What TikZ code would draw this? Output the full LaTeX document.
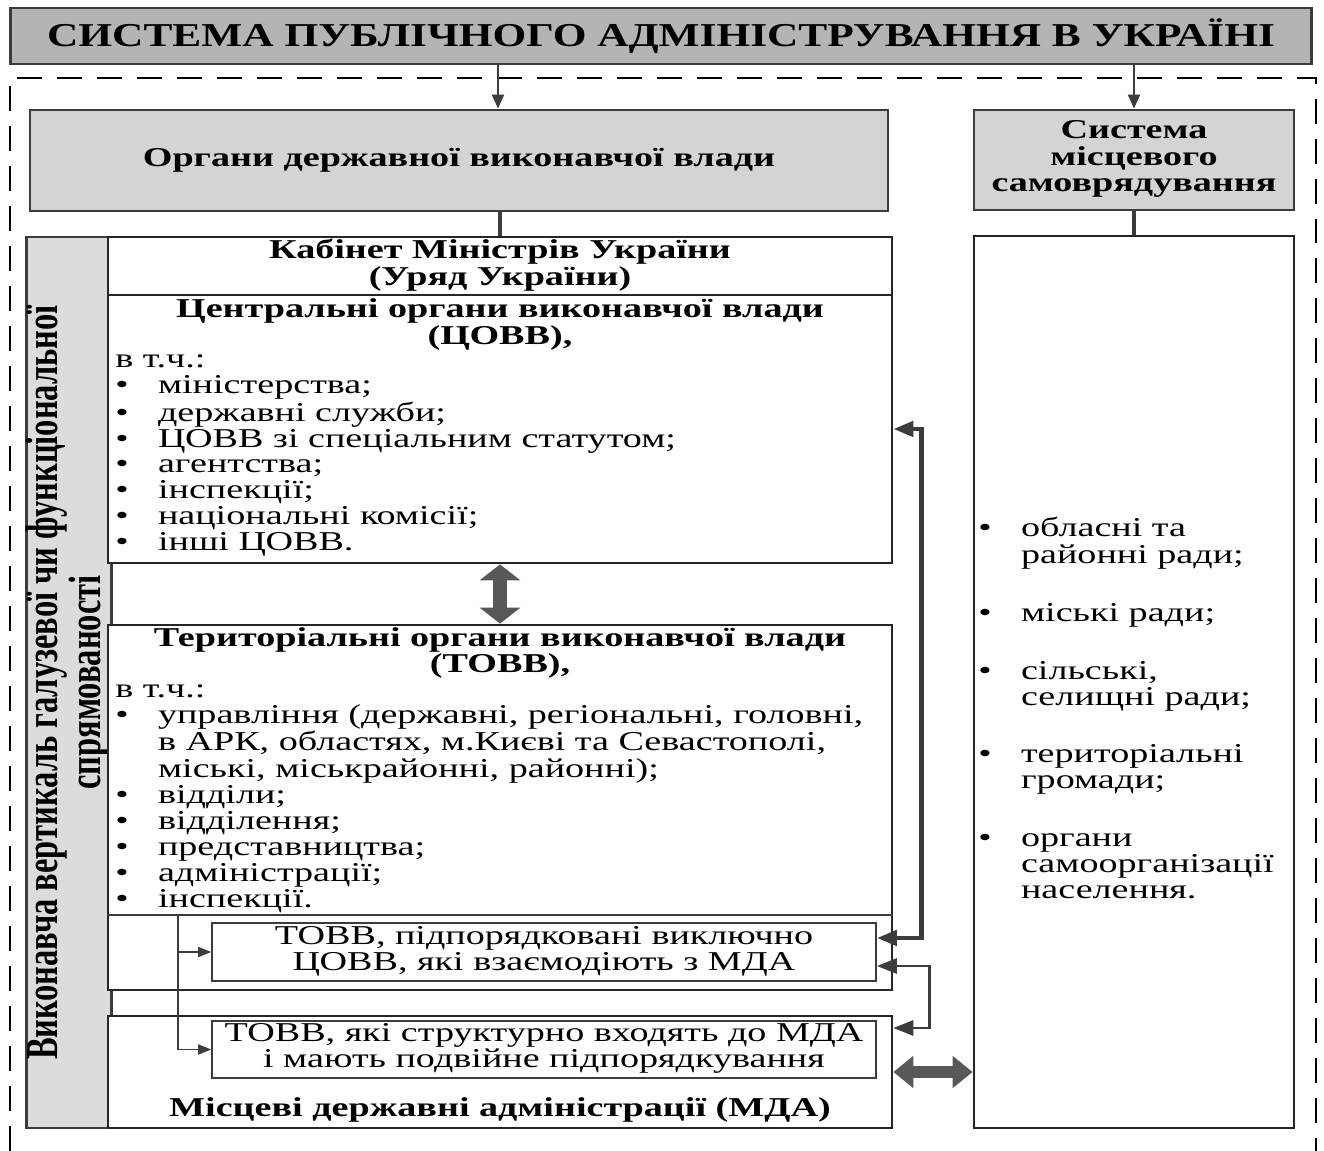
\documentclass[tikz,border=0pt]{standalone}
\usepackage{fontspec}
\setmainfont{Liberation Serif}
\usepackage{graphicx}
\usetikzlibrary{arrows.meta}
\definecolor{frame}{HTML}{3C3C3C}
\definecolor{titlegray}{HTML}{B4B4B4}
\definecolor{boxgray}{HTML}{D4D4D4}
\definecolor{bargray}{HTML}{DCDCDC}
\definecolor{fatgray}{HTML}{585858}
\newcommand{\wide}[1]{\scalebox{1.4}[1]{#1}}
\newcommand{\blk}[2]{\wide{\begin{tabular}[t]{@{}#1@{}}#2\end{tabular}}}
\newcommand{\itm}{\makebox[0.61cm][l]{\textbullet}}
\newcommand{\gap}{\hspace*{0.61cm}}
\begin{document}
\begin{tikzpicture}[x=0.02cm, y=-0.02cm,
    body/.style={font=\fontsize{15.5}{14.74}\selectfont, inner sep=0pt},
    head/.style={font=\fontsize{15.5}{14.74}\selectfont\bfseries, inner sep=0pt},
    graybox/.style={draw=frame, line width=1.6pt, fill=boxgray, inner sep=0pt},
    whitebox/.style={draw=black!85, line width=1.6pt, fill=white, inner sep=0pt},
    subbox/.style={draw=frame, line width=1pt, fill=white, inner sep=0pt},
    tip/.style={-{Triangle[length=0.28cm,width=0.24cm]}, draw=frame, line width=1.1pt},
    thintip/.style={-{Triangle[length=0.26cm,width=0.2cm]}, draw=frame, line width=1pt},
    link/.style={draw=frame, line width=2.8pt},
    both/.style={{Triangle[length=0.4cm,width=0.3cm]}-{Triangle[length=0.4cm,width=0.3cm]}, draw=frame, line width=2.6pt},
    boththin/.style={{Triangle[length=0.4cm,width=0.3cm]}-{Triangle[length=0.4cm,width=0.3cm]}, draw=frame, line width=1.6pt},
    fatv/.style={{Triangle[length=0.32cm,width=0.8cm]}-{Triangle[length=0.32cm,width=0.8cm]}, draw=fatgray, line width=0.28cm},
    fath/.style={{Triangle[length=0.4cm,width=0.62cm]}-{Triangle[length=0.4cm,width=0.62cm]}, draw=fatgray, line width=0.24cm}]
\useasboundingbox (0,0) rectangle (1324,1151);
\draw[dashed, dash pattern=on 0.5cm off 0.3cm, line width=0.9pt] (10,1151) -- (10,78) -- (1316,78) -- (1316,1151);
\node[graybox, fill=titlegray, minimum width=26.04cm, minimum height=1.12cm,
    font=\fontsize{19}{19}\selectfont\bfseries] (title) at (661,36)
    {\scalebox{1.3}[1]{СИСТЕМА ПУБЛІЧНОГО АДМІНІСТРУВАННЯ В УКРАЇНІ}};
\node[graybox, minimum width=17.16cm, minimum height=2.02cm, head] (ovv) at (459,160.5)
    {\wide{Органи державної виконавчої влади}};
\node[graybox, minimum width=6.4cm, minimum height=2cm, head] (smc) at (1134,160)
    {\blk{c}{Система\\ місцевого\\ самоврядування}};
\node[graybox, fill=bargray, minimum width=1.56cm, minimum height=17.82cm,
    font=\fontsize{18.5}{15.3}\selectfont\bfseries] (vert) at (69,682.5)
    {\wide{\rotatebox{90}{\begin{tabular}{@{}c@{}}Виконавча вертикаль галузевої чи функціональної\\ спрямованості\end{tabular}}}};
\node[whitebox, minimum width=15.68cm, minimum height=1.16cm, head] (kab) at (500,266)
    {\blk{c}{Кабінет Міністрів України\\ (Уряд України)}};
\node[whitebox, minimum width=15.68cm, minimum height=5.36cm] (covv) at (500,429) {};
\node[whitebox, minimum width=15.68cm, minimum height=7.3cm] (tovv) at (500,807.5) {};
\node[whitebox, minimum width=15.68cm, minimum height=2.24cm] (mda) at (500,1072) {};
\node[whitebox, minimum width=6.4cm, minimum height=17.84cm] (self) at (1134,682) {};
\node[head, anchor=base] (covvhead) at (500,318)
    {\blk{c}{Центральні органи виконавчої влади\\ (ЦОВВ),}};
\node[body, anchor=base west] (covvlist) at (115,368)
    {\blk{l}{в т.ч.:\\ \itm міністерства;\\ \itm державні служби;\\ \itm ЦОВВ зі спеціальним статутом;\\
    \itm агентства;\\ \itm інспекції;\\ \itm національні комісії;\\ \itm інші ЦОВВ.}};
\node[head, anchor=base] (tovvhead) at (500,646)
    {\blk{c}{Територіальні органи виконавчої влади\\ (ТОВВ),}};
\node[body, anchor=base west] (tovvlist) at (115,697)
    {\blk{l}{в т.ч.:\\ \itm управління (державні, регіональні, головні,\\ \gap в АРК, областях, м.Києві та Севастополі,\\
    \gap міські, міськрайонні, районні);\\ \itm відділи;\\ \itm відділення;\\ \itm представництва;\\ \itm адміністрації;\\ \itm інспекції.}};
\coordinate (split) at (178,915);
\draw[draw=frame, line width=1pt] (tovv.west |- split) -- (tovv.east |- split);
\node[subbox, minimum width=13.28cm, minimum height=1.16cm, body] (sub1) at (544,952)
    {\blk{c}{ТОВВ, підпорядковані виключно\\ ЦОВВ, які взаємодіють з МДА}};
\node[subbox, minimum width=13.28cm, minimum height=1.14cm, body] (sub2) at (544,1049.5)
    {\blk{c}{ТОВВ, які структурно входять до МДА\\ і мають подвійне підпорядкування}};
\node[head, anchor=base] (mdahead) at (500,1116) {\wide{Місцеві державні адміністрації (МДА)}};
\node[body, anchor=base west] (selflist) at (978,537)
    {\blk{l}{\itm обласні та\\ \gap районні ради;\\[0.64cm] \itm міські ради;\\[0.64cm] \itm сільські,\\ \gap селищні ради;\\[0.64cm]
    \itm територіальні\\ \gap громади;\\[0.64cm] \itm органи\\ \gap самоорганізації\\ \gap населення.}};
\coordinate (drop) at ([xshift=0.78cm]ovv.north);
\draw[tip] (title.south -| drop) -- (drop);
\draw[tip] (title.south -| smc.north) -- (smc.north);
\draw[link] (ovv.south -| kab.north) -- (kab.north);
\draw[link] (smc.south) -- (self.north);
\draw[fatv] (covv.south) -- (tovv.north);
\draw[fath] (mda.east) -- (mda.east -| self.west);
\draw[both] (covv.east) -- ++(28,0) |- ([yshift=0.28cm]sub1.east);
\draw[boththin] ([yshift=-0.28cm]sub1.east) -- ++(53,0) |- ([yshift=0.88cm]mda.east);
\draw[thintip] (split) |- (sub2.west);
\draw[thintip] (split |- sub1.west) -- (sub1.west);
\end{tikzpicture}
\end{document}
